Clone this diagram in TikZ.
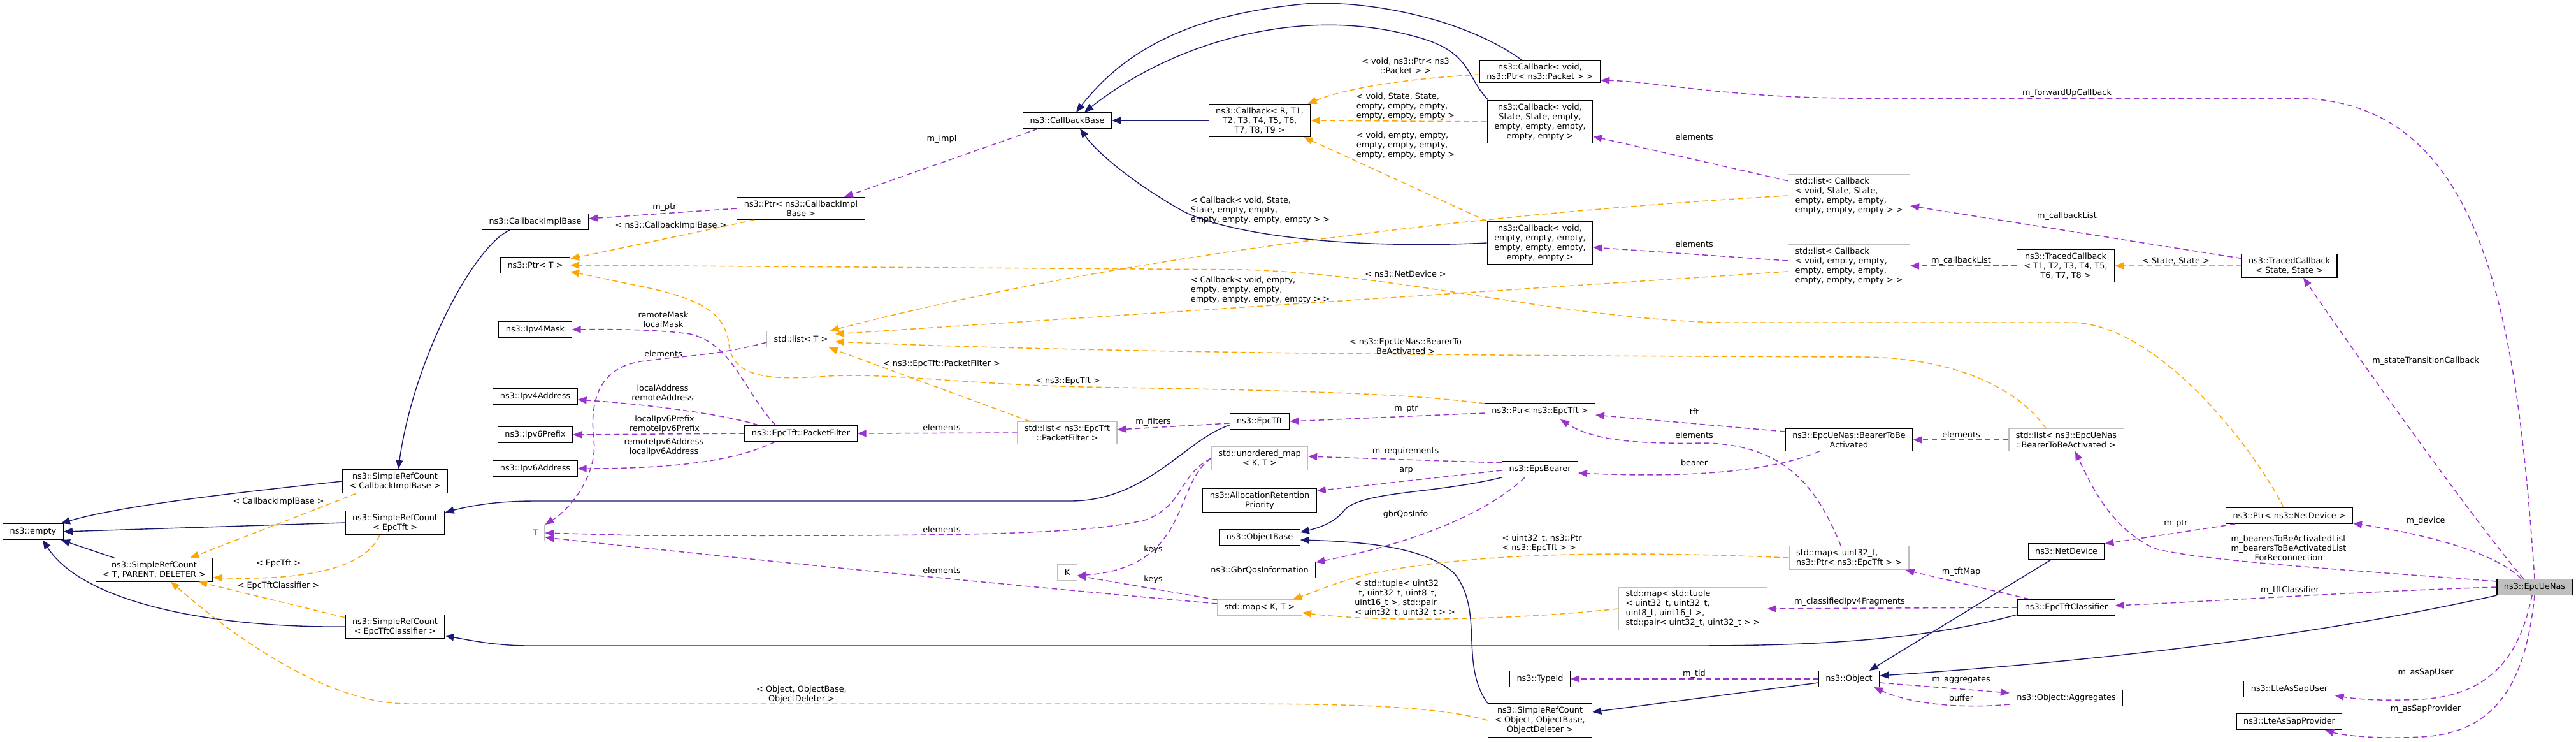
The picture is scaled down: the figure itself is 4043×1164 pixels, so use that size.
\documentclass[tikz,border=0pt]{standalone}
\usepackage{fontspec}
\setmainfont{DejaVu Sans}
\usetikzlibrary{arrows.meta,calc}
\definecolor{inhc}{HTML}{191970}
\definecolor{usec}{HTML}{9A32CD}
\definecolor{tmpc}{HTML}{FFA500}
\definecolor{boxg}{HTML}{BFBFBF}
\newcommand\dxf{\fontsize{12.8pt}{15pt}\selectfont}
\tikzset{
 dbox/.style={draw=black, line width=1.1pt, fill=white, inner xsep=11pt, inner ysep=5pt, minimum height=25pt, align=center, font=\dxf},
 gbox/.style={dbox, draw=boxg},
 lbox/.style={gbox, align=left},
 elab/.style={inner sep=0pt, align=center, font=\dxf},
 llab/.style={elab, align=left},
 einh/.style={draw=inhc, line width=1.4pt, -{Triangle[length=14pt,width=11pt]}},
 euse/.style={draw=usec, line width=1.5pt, dash pattern=on 8.5pt off 5.5pt, -{Triangle[length=14pt,width=11pt]}},
 etmp/.style={draw=tmpc, line width=1.5pt, dash pattern=on 8.5pt off 5.5pt, -{Triangle[length=14pt,width=11pt]}}
}
\begin{document}
\begin{tikzpicture}[x=1pt,y=-1pt]
\fill[white] (0,0) rectangle (4043,1164);
\useasboundingbox (0,0) rectangle (4043,1164);
% ---------- nodes ----------
\node[dbox] (empty) at (52,834) {ns3::empty};
\node[dbox] (SRCTPD) at (242,894) {ns3::SimpleRefCount\\< T, PARENT, DELETER >};
\node[dbox] (SRCCIB) at (620,755) {ns3::SimpleRefCount\\< CallbackImplBase >};
\node[dbox] (SRCTft) at (620,820) {ns3::SimpleRefCount\\< EpcTft >};
\node[dbox] (SRCETC) at (620,983) {ns3::SimpleRefCount\\< EpcTftClassifier >};
\node[dbox] (CIB) at (840,348) {ns3::CallbackImplBase};
\node[dbox] (PtrT) at (840,416) {ns3::Ptr< T >};
\node[dbox] (Ipv4Mask) at (840,517) {ns3::Ipv4Mask};
\node[dbox] (Ipv4Address) at (840,622) {ns3::Ipv4Address};
\node[dbox] (Ipv6Prefix) at (840,682) {ns3::Ipv6Prefix};
\node[dbox] (Ipv6Address) at (840,735) {ns3::Ipv6Address};
\node[gbox] (T) at (840,836) {T};
\node[dbox] (PtrCIB) at (1257,327) {ns3::Ptr< ns3::CallbackImpl\\Base >};
\node[gbox] (listT) at (1257,532) {std::list< T >};
\node[dbox] (PF) at (1257,680) {ns3::EpcTft::PacketFilter};
\node[dbox] (CallbackBase) at (1675,189) {ns3::CallbackBase};
\node[gbox] (listPF) at (1675,679) {std::list< ns3::EpcTft\\::PacketFilter >};
\node[gbox] (K) at (1675,898) {K};
\node[dbox] (CbR) at (1977,189) {ns3::Callback< R, T1,\\T2, T3, T4, T5, T6,\\T7, T8, T9 >};
\node[dbox] (EpcTft) at (1977,661) {ns3::EpcTft};
\node[gbox] (umap) at (1977,719) {std::unordered\_map\\< K, T >};
\node[dbox] (ARP) at (1977,785) {ns3::AllocationRetention\\Priority};
\node[dbox] (ObjectBase) at (1977,843) {ns3::ObjectBase};
\node[dbox] (GbrQos) at (1977,894) {ns3::GbrQosInformation};
\node[gbox] (mapKT) at (1977,953) {std::map< K, T >};
\node[dbox] (CbPkt) at (2417,112) {ns3::Callback< void,\\ns3::Ptr< ns3::Packet > >};
\node[dbox] (CbSS) at (2417,191) {ns3::Callback< void,\\State, State, empty,\\empty, empty, empty,\\empty, empty >};
\node[dbox] (CbE) at (2417,381) {ns3::Callback< void,\\empty, empty, empty,\\empty, empty, empty,\\empty, empty >};
\node[dbox] (PtrTft) at (2417,645) {ns3::Ptr< ns3::EpcTft >};
\node[dbox] (EpsBearer) at (2417,736) {ns3::EpsBearer};
\node[dbox] (TypeId) at (2417,1065) {ns3::TypeId};
\node[dbox] (SRCObj) at (2417,1130) {ns3::SimpleRefCount\\< Object, ObjectBase,\\ObjectDeleter >};
\node[lbox] (mapTup) at (2657,955) {std::map< std::tuple\\< uint32\_t, uint32\_t,\\uint8\_t, uint16\_t >,\\std::pair< uint32\_t, uint32\_t > >};
\node[lbox] (listCbSS) at (2902,307) {std::list< Callback\\< void, State, State,\\empty, empty, empty,\\empty, empty, empty > >};
\node[lbox] (listCbE) at (2902,417) {std::list< Callback\\< void, empty, empty,\\empty, empty, empty,\\empty, empty, empty > >};
\node[dbox] (BTBA) at (2902,690) {ns3::EpcUeNas::BearerToBe\\Activated};
\node[lbox] (mapU32) at (2902,875) {std::map< uint32\_t,\\ns3::Ptr< ns3::EpcTft > >};
\node[dbox] (Object) at (2902,1065) {ns3::Object};
\node[dbox] (TCT) at (3242,417) {ns3::TracedCallback\\< T1, T2, T3, T4, T5,\\T6, T7, T8 >};
\node[lbox] (listBTBA) at (3243,690) {std::list< ns3::EpcUeNas\\::BearerToBeActivated >};
\node[dbox] (NetDevice) at (3243,865) {ns3::NetDevice};
\node[dbox] (ETC) at (3243,953) {ns3::EpcTftClassifier};
\node[dbox] (Aggr) at (3243,1095) {ns3::Object::Aggregates};
\node[dbox] (TCSS) at (3593,417) {ns3::TracedCallback\\< State, State >};
\node[dbox] (PtrND) at (3593,809) {ns3::Ptr< ns3::NetDevice >};
\node[dbox] (LteUser) at (3593,1081) {ns3::LteAsSapUser};
\node[dbox] (LteProv) at (3593,1132) {ns3::LteAsSapProvider};
\node[dbox, fill=boxg] (EpcUeNas) at (3978,921) {ns3::EpcUeNas};
% ---------- edges ----------
\draw[einh] (SRCCIB.west) .. controls (420,768) and (200,790) .. ($(empty.north east)+(-4,0)$);
\draw[einh] (SRCTft.west) -- (empty.east);
\draw[einh] ($(SRCTPD.north west)+(30,0)$) -- ($(empty.south east)+(-4,0)$);
\draw[einh] (SRCETC.west) .. controls (330,985) and (130,945) .. ($(empty.south)+(15,0)$);
\draw[etmp] ($(SRCCIB.south west)+(22,0)$) -- ($(SRCTPD.north east)+(-36,0)$);
\draw[etmp] ($(SRCTft.south)+(-24,0)$) .. controls (570,900) and (450,910) .. ($(SRCTPD.east)+(0,12)$);
\draw[etmp] ($(SRCETC.north west)+(0,5)$) -- ($(SRCTPD.south east)+(-23,0)$);
\draw[etmp] (SRCObj.west) .. controls (2250,1106) and (2100,1104) .. (1900,1104) -- (640,1104) .. controls (520,1104) and (380,1010) .. ($(SRCTPD.south)+(26,0)$);
\draw[einh] ($(CIB.south)+(-40,0)$) .. controls (745,385) and (650,560) .. ($(SRCCIB.north)+(5,0)$);
\draw[einh] ($(EpcTft.west)+(0,6)$) .. controls (1860,690) and (1800,786) .. (1680,786) -- (840,786) .. controls (780,786) and (740,793) .. ($(SRCTft.north east)+(0,3)$);
\draw[einh] ($(ETC.south west)+(0,-2)$) .. controls (3000,1010) and (2800,1013) .. (2650,1013) -- (830,1013) .. controls (780,1013) and (740,1005) .. ($(SRCETC.south east)+(0,-5)$);
\draw[euse] (PtrCIB.west) -- ($(CIB.east)+(0,-5)$);
\draw[etmp] ($(PtrCIB.south west)+(28,0)$) -- ($(PtrT.east)+(0,-10)$);
\draw[etmp] ($(PtrND.north)+(-9,0)$) .. controls (3530,690) and (3380,506) .. (3250,506) -- (2700,506) .. controls (2450,500) and (2200,430) .. (1950,423) -- (PtrT.east);
\draw[etmp] ($(PtrTft.west)+(0,-12)$) .. controls (2200,616) and (2000,612) .. (1700,607) .. controls (1500,602) and (1400,585) .. (1300,590) .. controls (1200,598) and (1150,590) .. (1144,540) .. controls (1138,490) and (1100,468) .. (1000,448) -- ($(PtrT.east)+(0,10)$);
\draw[etmp] (listCbSS.west) .. controls (2400,330) and (1800,390) .. ($(listT.north east)+(-8,0)$);
\draw[etmp] ($(listCbE.west)+(0,9)$) -- ($(listT.east)+(0,-8)$);
\draw[etmp] ($(listBTBA.north)+(-32,0)$) .. controls (3160,600) and (3050,560) .. (2920,560) .. controls (2300,558) and (1700,553) .. ($(listT.east)+(0,4)$);
\draw[etmp] ($(listPF.north west)+(20,0)$) -- ($(listT.south east)+(-10,0)$);
\draw[euse] ($(PF.north)+(-40,0)$) .. controls (1165,610) and (1150,540) .. (1083,524) .. controls (1040,518) and (980,516) .. (Ipv4Mask.east);
\draw[euse] ($(PF.north west)+(22,0)$) .. controls (1130,648) and (1000,633) .. ($(Ipv4Address.east)+(0,5)$);
\draw[euse] (PF.west) -- (Ipv6Prefix.east);
\draw[euse] ($(PF.south west)+(48,0)$) .. controls (1150,725) and (1050,735) .. (Ipv6Address.east);
\draw[euse] (listPF.west) -- (PF.east);
\draw[euse] ($(EpcTft.west)+(0,3)$) -- ($(listPF.east)+(0,-5)$);
\draw[euse] ($(PtrTft.west)+(0,3)$) -- (EpcTft.east);
\draw[euse] ($(listT.south west)+(0,-8)$) .. controls (1120,560) and (1040,560) .. (1000,568) .. controls (940,580) and (925,630) .. (932,690) .. controls (938,740) and (900,795) .. (T.north east);
\draw[euse] (umap.west) .. controls (1850,745) and (1860,790) .. (1800,815) .. controls (1700,840) and (1500,841) .. (1000,840) -- (T.east);
\draw[euse] ($(mapKT.west)+(0,-6)$) .. controls (1550,915) and (1150,875) .. ($(T.east)+(0,7)$);
\draw[euse] (umap.west) .. controls (1840,760) and (1870,890) .. ($(K.east)+(0,5)$);
\draw[euse] ($(mapKT.west)+(0,-12)$) -- ($(K.east)+(0,5)$);
\draw[euse] ($(EpsBearer.north west)+(0,3)$) -- ($(umap.east)+(0,-3)$);
\draw[euse] ($(EpsBearer.west)+(0,2)$) -- ($(ARP.east)+(0,-15)$);
\draw[euse] ($(EpsBearer.south west)+(36,0)$) .. controls (2340,800) and (2230,850) .. ($(GbrQos.east)+(0,-12)$);
\draw[einh] (EpsBearer.south west) .. controls (2250,775) and (2140,770) .. (2110,800) .. controls (2095,820) and (2070,828) .. ($(ObjectBase.east)+(0,-8)$);
\draw[einh] (SRCObj.north west) .. controls (2290,1040) and (2330,960) .. (2283,900) .. controls (2240,860) and (2150,850) .. ($(ObjectBase.east)+(0,4)$);
\draw[etmp] (mapU32.west) .. controls (2500,862) and (2300,870) .. (2150,900) .. controls (2100,912) and (2060,930) .. ($(mapKT.north east)+(-15,0)$);
\draw[etmp] (mapTup.west) .. controls (2350,975) and (2150,975) .. ($(mapKT.east)+(0,8)$);
\draw[euse] ($(BTBA.north west)+(0,5)$) -- ($(PtrTft.east)+(0,6)$);
\draw[euse] ($(mapU32.north)+(-13,0)$) .. controls (2850,760) and (2800,700) .. (2680,695) .. controls (2560,697) and (2500,690) .. ($(PtrTft.south)+(32,0)$);
\draw[euse] ($(BTBA.south west)+(54,0)$) .. controls (2780,740) and (2650,750) .. ($(EpsBearer.east)+(0,6)$);
\draw[euse] (listBTBA.west) -- (BTBA.east);
\draw[euse] ($(EpcUeNas.west)+(0,-9)$) .. controls (3700,895) and (3450,880) .. (3380,860) .. controls (3320,830) and (3290,780) .. ($(listBTBA.south)+(14,0)$);
\draw[euse] ($(ETC.north west)+(19,0)$) -- ($(mapU32.south east)+(-6,0)$);
\draw[euse] (ETC.west) -- (mapTup.east);
\draw[euse] (EpcUeNas.west) .. controls (3700,928) and (3500,942) .. ($(ETC.east)+(0,-3)$);
\draw[euse] ($(EpcUeNas.north)+(-21,0)$) .. controls (3920,870) and (3820,840) .. ($(PtrND.east)+(0,12)$);
\draw[euse] ($(PtrND.south west)+(15,0)$) -- ($(NetDevice.north east)+(0,1)$);
\draw[einh] ($(NetDevice.south)+(-24,0)$) -- ($(Object.north)+(32,0)$);
\draw[einh] (EpcUeNas.south west) .. controls (3600,1005) and (3250,1040) .. ($(Object.east)+(0,-5)$);
\draw[einh] ($(Object.west)+(0,6)$) -- ($(SRCObj.east)+(0,-13)$);
\draw[euse] (Object.west) -- (TypeId.east);
\draw[euse] ($(Object.east)+(0,6)$) -- ($(Aggr.west)+(0,-8)$);
\draw[euse] ($(Aggr.west)+(0,10)$) .. controls (3080,1112) and (3000,1105) .. ($(Object.south)+(39,0)$);
\draw[euse] ($(EpcUeNas.south)+(-4,0)$) .. controls (3960,1000) and (3930,1090) .. (3800,1097) .. controls (3740,1100) and (3700,1097) .. ($(LteUser.east)+(0,10)$);
\draw[euse] (EpcUeNas.south) .. controls (3965,1060) and (3925,1150) .. (3800,1156) .. controls (3720,1160) and (3670,1152) .. ($(LteProv.south)+(56,0)$);
\draw[euse] ($(EpcUeNas.north)+(-17,0)$) .. controls (3900,840) and (3700,560) .. ($(TCSS.south)+(22,0)$);
\draw[euse] (EpcUeNas.north) .. controls (3950,500) and (3900,154) .. (3600,154) -- (2900,154) .. controls (2700,152) and (2600,128) .. ($(CbPkt.east)+(0,14)$);
\draw[etmp] (TCSS.west) -- (TCT.east);
\draw[euse] ($(TCSS.north west)+(0,7)$) -- ($(listCbSS.east)+(0,16)$);
\draw[euse] (TCT.west) -- (listCbE.east);
\draw[euse] ($(listCbSS.north west)+(0,11)$) -- ($(CbSS.east)+(0,23)$);
\draw[euse] ($(listCbE.west)+(0,-8)$) -- ($(CbE.east)+(0,7)$);
\draw[etmp] ($(CbPkt.west)+(0,5)$) .. controls (2230,122) and (2120,135) .. ($(CbR.north east)+(-5,0)$);
\draw[etmp] (CbSS.west) -- (CbR.east);
\draw[etmp] (CbE.north west) -- ($(CbR.south east)+(-11,0)$);
\draw[einh] (CbR.west) -- (CallbackBase.east);
\draw[einh] ($(CbPkt.north)+(-29,0)$) .. controls (2300,30) and (2150,0) .. (2050,6) .. controls (1900,20) and (1780,60) .. ($(CallbackBase.north)+(14,0)$);
\draw[einh] ($(CbSS.north west)+(2,0)$) .. controls (2300,120) and (2310,80) .. (2220,57) .. controls (2050,10) and (1850,60) .. ($(CallbackBase.north)+(27,0)$);
\draw[einh] (CbE.west) .. controls (2150,390) and (1950,375) .. (1860,333) .. controls (1800,300) and (1730,250) .. ($(CallbackBase.south)+(20,0)$);
\draw[euse] ($(CallbackBase.south west)+(24,0)$) -- ($(PtrCIB.north)+(68,0)$);
% ---------- labels ----------
\node[elab] (l1) at (437,787) {< CallbackImplBase >};
\node[elab] (l2) at (437,884) {< EpcTft >};
\node[elab] (l3) at (437,919) {< EpcTftClassifier >};
\node[elab] (l4) at (1258,1089) {< Object, ObjectBase,\\ObjectDeleter >};
\node[elab] (l5) at (1043,326) {m\_ptr};
\node[elab] (l6) at (1053,354) {< ns3::CallbackImplBase >};
\node[elab] (l7) at (1478,218) {m\_impl};
\node[elab] (l8) at (1041,501) {remoteMask\\localMask};
\node[elab] (l9) at (1041,555) {elements};
\node[elab] (l10) at (1040,616) {localAddress\\remoteAddress};
\node[elab] (l11) at (1043,665) {localIpv6Prefix\\remoteIpv6Prefix};
\node[elab] (l12) at (1042,701) {remoteIpv6Address\\localIpv6Address};
\node[elab] (l13) at (1478,571) {< ns3::EpcTft::PacketFilter >};
\node[elab] (l14) at (1676,598) {< ns3::EpcTft >};
\node[elab] (l15) at (1478,671) {elements};
\node[elab] (l16) at (1810,662) {m\_filters};
\node[elab] (l17) at (1478,831) {elements};
\node[elab] (l18) at (1478,895) {elements};
\node[elab] (l19) at (1810,862) {keys};
\node[elab] (l20) at (1810,909) {keys};
\node[llab] (l21) at (1978,330) {< Callback< void, State,\\State, empty, empty,\\empty, empty, empty, empty > >};
\node[llab] (l22) at (1978,455) {< Callback< void, empty,\\empty, empty, empty,\\empty, empty, empty, empty > >};
\node[elab] (l23) at (2206,103) {< void, ns3::Ptr< ns3\\::Packet > >};
\node[llab] (l24) at (2206,167) {< void, State, State,\\empty, empty, empty,\\empty, empty, empty >};
\node[llab] (l25) at (2206,228) {< void, empty, empty,\\empty, empty, empty,\\empty, empty, empty >};
\node[elab] (l26) at (2206,430) {< ns3::NetDevice >};
\node[elab] (l27) at (2206,543) {< ns3::EpcUeNas::BearerTo\\BeActivated >};
\node[elab] (l28) at (2659,215) {elements};
\node[elab] (l29) at (2659,383) {elements};
\node[elab] (l30) at (2207,642) {m\_ptr};
\node[elab] (l31) at (2659,646) {tft};
\node[elab] (l32) at (2659,683) {elements};
\node[elab] (l33) at (2206,708) {m\_requirements};
\node[elab] (l34) at (2659,726) {bearer};
\node[elab] (l35) at (2207,738) {arp};
\node[elab] (l36) at (2206,807) {gbrQosInfo};
\node[llab] (l37) at (2420,852) {< uint32\_t, ns3::Ptr\\< ns3::EpcTft > >};
\node[llab] (l38) at (2205,939) {< std::tuple< uint32\\\_t, uint32\_t, uint8\_t,\\uint16\_t >, std::pair\\< uint32\_t, uint32\_t > >};
\node[elab] (l39) at (2659,1057) {m\_tid};
\node[elab] (l40) at (3244,146) {m\_forwardUpCallback};
\node[elab] (l41) at (3244,339) {m\_callbackList};
\node[elab] (l42) at (3078,409) {m\_callbackList};
\node[elab] (l43) at (3415,409) {< State, State >};
\node[elab] (l44) at (3807,566) {m\_stateTransitionCallback};
\node[elab] (l45) at (3078,682) {elements};
\node[elab] (l46) at (3415,822) {m\_ptr};
\node[elab] (l47) at (3807,817) {m\_device};
\node[elab] (l48) at (3592,860) {m\_bearersToBeActivatedList\\m\_bearersToBeActivatedList\\ForReconnection};
\node[elab] (l49) at (3078,897) {m\_tftMap};
\node[elab] (l50) at (2903,944) {m\_classifiedIpv4Fragments};
\node[elab] (l51) at (3594,926) {m\_tftClassifier};
\node[elab] (l52) at (3078,1067) {m\_aggregates};
\node[elab] (l53) at (3078,1095) {buffer};
\node[elab] (l54) at (3807,1055) {m\_asSapUser};
\node[elab] (l55) at (3807,1112) {m\_asSapProvider};
\end{tikzpicture}
\end{document}
